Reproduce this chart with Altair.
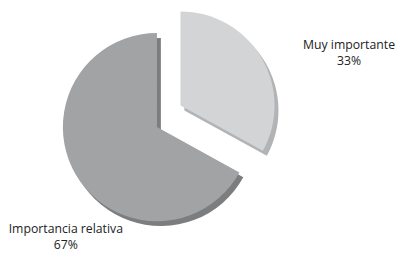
import altair as alt
import pandas as pd

categories = ["Muy importante", "Importancia relativa"]
values = [33, 67]
order = [0, 1]

df = pd.DataFrame({"category": categories, "value": values, "order": order})

base = alt.Chart(df).transform_stack(
    stack="value", groupby=[], as_=["start", "end"],
    sort=[alt.SortField("order", order="ascending")]
).transform_calculate(
    label="datum.category + '\\n' + datum.value + '%'"
)

R = 96
theta_enc = alt.Theta("start:Q", scale=alt.Scale(domain=[0, 100]))


def slice_layer(cat, cx, cy, color):
    return base.transform_filter(alt.datum.category == cat).mark_arc(
        radius=R, color=color, strokeWidth=0
    ).encode(theta=theta_enc, theta2="end:Q", x=alt.value(cx), y=alt.value(cy))


def label_layer(cat, cx, cy):
    return base.transform_filter(alt.datum.category == cat).mark_text(
        lineBreak="\n", align="center", baseline="top", fontSize=12.5,
        font="Open Sans", color="#222222", lineHeight=16.5
    ).encode(text="label:N", x=alt.value(cx), y=alt.value(cy))


big_c = (152, 119)
small_c = (176, 97)
sh = (4, 5)

chart = alt.layer(
    slice_layer("Importancia relativa", big_c[0] + sh[0], big_c[1] + sh[1], "#7c7d7f"),
    slice_layer("Importancia relativa", big_c[0], big_c[1], "#a2a3a5"),
    slice_layer("Muy importante", small_c[0] + sh[0], small_c[1] + sh[1], "#b2b3b5"),
    slice_layer("Muy importante", small_c[0], small_c[1], "#d3d4d6"),
    label_layer("Muy importante", 348, 29),
    label_layer("Importancia relativa", 59, 217),
).properties(width=399, height=248, padding=0, autosize="none").configure_view(stroke=None)

chart.save("out.html", embed_options={"renderer": "svg", "actions": False})
